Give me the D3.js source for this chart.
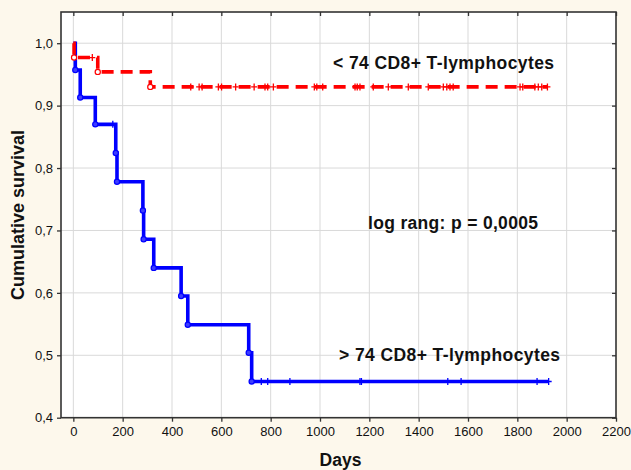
<!DOCTYPE html>
<html>
<head>
<meta charset="utf-8">
<script src="https://cdn.jsdelivr.net/npm/d3@7"></script>
<style>
  html, body { margin: 0; padding: 0; background: #FDF8EC; }
  svg { display: block; }
  text { font-family: "Liberation Sans", Arial, sans-serif; fill: #111; }
</style>
</head>
<body>
<svg id="chart" width="631" height="470"></svg>
<script>
// ---- data ----
const xTicks = [0, 200, 400, 600, 800, 1000, 1200, 1400, 1600, 1800, 2000, 2200];
const yTicks = [0.4, 0.5, 0.6, 0.7, 0.8, 0.9, 1.0];

// > 74 CD8+ T-lymphocytes (blue, solid)
const highTimes = [0, 8, 28, 89, 172, 177, 282, 285, 326, 437, 464, 711, 723];
const highSurv  = [1.0, 0.957, 0.913, 0.870, 0.824, 0.778, 0.732, 0.686, 0.640, 0.595, 0.549, 0.504, 0.458];
const highEnd = 1927;
const highCensored = [160, 762, 788, 878, 1162, 1168, 1518, 1572, 1880, 1927];

// < 74 CD8+ T-lymphocytes (red, dashed)
const lowTimes = [0, 3, 99, 312];
const lowSurv  = [1.0, 0.977, 0.954, 0.930];
const lowEnd = 1922;
const lowCensored = [77, 476, 510, 522, 588, 601, 658, 733, 777, 788, 811, 977, 987, 1011,
  1142, 1151, 1162, 1216, 1277, 1358, 1439, 1500, 1514, 1527, 1540, 1811, 1822, 1871, 1885, 1899, 1922];

const labelHigh = "> 74 CD8+ T-lymphocytes";
const labelLow = "< 74 CD8+ T-lymphocytes";
const labelTest = "log rang: p = 0,0005";

// ---- layout ----
const svg = d3.select("#chart");
const L = 61, R = 616, T = 12, B = 417.7;
const x = d3.scaleLinear().domain([-50, 2200]).range([L, R]);
const y = d3.scaleLinear().domain([0.4, 1.05]).range([B, T]);
const fmtY = d => d.toFixed(1).replace(".", ",");

svg.append("rect").attr("width", 631).attr("height", 470).attr("fill", "#FDF8EC");
svg.append("rect").attr("x", L).attr("y", T).attr("width", R - L).attr("height", B - T).attr("fill", "#fff");

// grid
const grid = svg.append("g").attr("stroke", "#d9d9d9").attr("stroke-width", 1);
grid.selectAll("line.v").data(xTicks.filter(d => d < 2200)).join("line")
  .attr("x1", d => x(d)).attr("x2", d => x(d)).attr("y1", T).attr("y2", B);
grid.selectAll("line.h").data(yTicks.filter(d => d > 0.4)).join("line")
  .attr("x1", L).attr("x2", R).attr("y1", d => y(d)).attr("y2", d => y(d));

// axes
const xAxis = svg.append("g").attr("transform", `translate(0,${B})`)
  .call(d3.axisBottom(x).tickValues(xTicks).tickSizeInner(4).tickSizeOuter(0).tickPadding(5).tickFormat(d3.format("d")));
const yAxis = svg.append("g").attr("transform", `translate(${L},0)`)
  .call(d3.axisLeft(y).tickValues(yTicks).tickSizeInner(4).tickSizeOuter(0).tickPadding(4).tickFormat(fmtY));
const xTop = svg.append("g").attr("transform", `translate(0,${T})`)
  .call(d3.axisBottom(x).tickValues(xTicks).tickSizeInner(4).tickSizeOuter(0).tickFormat(""));
const yRight = svg.append("g").attr("transform", `translate(${R},0)`)
  .call(d3.axisLeft(y).tickValues(yTicks).tickSizeInner(4).tickSizeOuter(0).tickFormat(""));
[xAxis, yAxis, xTop, yRight].forEach(g => {
  g.select(".domain").remove();
  g.selectAll(".tick line").attr("stroke", "#333").attr("stroke-width", 1.3);
  g.selectAll(".tick text").attr("font-size", 13).attr("fill", "#111")
    .style("font-family", '"Liberation Sans", Arial, sans-serif');
});

// frame
svg.append("rect").attr("x", L).attr("y", T).attr("width", R - L).attr("height", B - T)
  .attr("fill", "none").attr("stroke", "#333").attr("stroke-width", 1.6);

// curves
const line = d3.line().x(d => x(d[0])).y(d => y(d[1])).curve(d3.curveStepAfter);
function stepPoints(times, surv, end) {
  const pts = times.map((t, i) => [t, surv[i]]);
  pts.push([end, surv[surv.length - 1]]);
  return pts;
}
function survAt(times, surv, t) {
  let s = surv[0];
  for (let i = 0; i < times.length; i++) if (times[i] <= t) s = surv[i];
  return s;
}

const plot = svg.append("g");

// blue (high) solid
plot.append("path").datum(stepPoints(highTimes, highSurv, highEnd))
  .attr("d", line).attr("fill", "none").attr("stroke", "#0000FF")
  .attr("stroke-width", 3.6);
plot.append("g").selectAll("path").data(highCensored).join("path")
  .attr("d", t => { const cx = x(t), cy = y(survAt(highTimes, highSurv, t));
    return `M${cx - 3},${cy}H${cx + 3}M${cx},${cy - 3.5}V${cy + 3.5}`; })
  .attr("stroke", "#0000FF").attr("stroke-width", 1.3).attr("fill", "none");
plot.append("g").selectAll("circle").data(highTimes.slice(1)).join("circle")
  .attr("cx", t => x(t)).attr("cy", (t, i) => y(highSurv[i + 1])).attr("r", 2.6)
  .attr("fill", "#3c3cff").attr("stroke", "#0000FF").attr("stroke-width", 1.2);

// red (low) dashed
plot.append("path").datum(stepPoints(lowTimes, lowSurv, lowEnd))
  .attr("d", line).attr("fill", "none").attr("stroke", "#FF0000")
  .attr("stroke-width", 3.6).attr("stroke-dasharray", "12,7");
plot.append("g").selectAll("path").data(lowCensored).join("path")
  .attr("d", t => { const cx = x(t), cy = y(survAt(lowTimes, lowSurv, t));
    return `M${cx - 3},${cy}H${cx + 3}M${cx},${cy - 3.5}V${cy + 3.5}`; })
  .attr("stroke", "#FF0000").attr("stroke-width", 1.3).attr("fill", "none");
plot.append("g").selectAll("circle").data(lowTimes.slice(1)).join("circle")
  .attr("cx", t => x(t)).attr("cy", (t, i) => y(lowSurv[i + 1])).attr("r", 2.6)
  .attr("fill", "#fff").attr("stroke", "#FF0000").attr("stroke-width", 1.2);

// annotations
const ann = svg.append("g").attr("font-weight", "bold").attr("font-size", 17.5);
ann.append("text").attr("x", 333).attr("y", 69).attr("textLength", 221).attr("lengthAdjust", "spacing").text(labelLow);
ann.append("text").attr("x", 368).attr("y", 229).attr("textLength", 170).attr("lengthAdjust", "spacing").text(labelTest);
ann.append("text").attr("x", 339).attr("y", 361).attr("textLength", 221).attr("lengthAdjust", "spacing").text(labelHigh);

// axis titles
svg.append("text").attr("x", (L + R) / 2 + 2).attr("y", 466).attr("text-anchor", "middle")
  .attr("font-weight", "bold").attr("font-size", 17.5).text("Days");
svg.append("text").attr("transform", `translate(24,${215}) rotate(-90)`).attr("text-anchor", "middle")
  .attr("font-weight", "bold").attr("font-size", 18).text("Cumulative survival");
</script>
</body>
</html>
